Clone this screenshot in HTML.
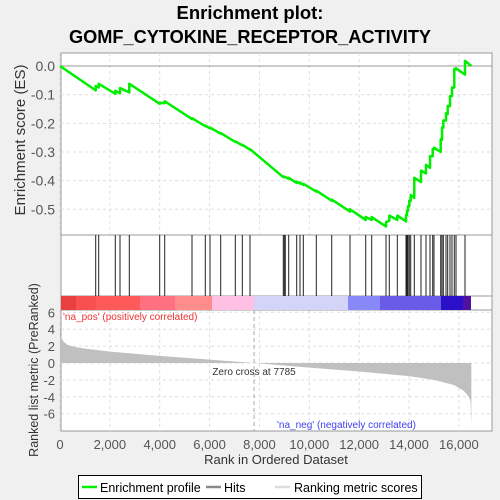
<!DOCTYPE html>
<html><head><meta charset="utf-8"><style>
body{margin:0;background:#f0f0f0;}
svg{display:block;font-family:"Liberation Sans",sans-serif;}
</style></head><body>
<svg id="c" width="500" height="500" xmlns="http://www.w3.org/2000/svg">
<text x="250" y="19" text-anchor="middle" font-size="18.5" font-weight="bold">Enrichment plot:</text>
<text x="250" y="43" text-anchor="middle" font-size="18.2" font-weight="bold">GOMF_CYTOKINE_RECEPTOR_ACTIVITY</text>
<rect x="61" y="53" width="431" height="378" fill="#fff" stroke="#999"/>
<g id="grid"></g>
<g id="colorbar"></g>
<g id="hits"></g>
<g id="metric"></g>
<g id="es"></g>
<g id="axes" font-size="13" fill="#555"></g>
<text transform="translate(25,140) rotate(-90)" text-anchor="middle" font-size="15" fill="#333">Enrichment score (ES)</text>
<text transform="translate(38,370) rotate(-90)" text-anchor="middle" font-size="12.5" fill="#333">Ranked list metric (PreRanked)</text>
<text x="276" y="464" text-anchor="middle" font-size="13" fill="#333">Rank in Ordered Dataset</text>
<text x="63" y="320" font-size="10" fill="#f03030">'na_pos' (positively correlated)</text>
<text x="277" y="428" font-size="10" fill="#4040f0">'na_neg' (negatively correlated)</text>
<text x="254" y="375" text-anchor="middle" font-size="10" fill="#333">Zero cross at 7785</text>
<g>
<rect x="78.5" y="475.5" width="343" height="23" fill="#fff" stroke="#000"/>
<line x1="82" y1="487" x2="97" y2="487" stroke="#00ee00" stroke-width="2.5"/>
<text x="100" y="492" font-size="12.5">Enrichment profile</text>
<line x1="206" y1="487" x2="221" y2="487" stroke="#888" stroke-width="2.5"/>
<text x="224" y="492" font-size="12.5">Hits</text>
<line x1="275" y1="487" x2="290" y2="487" stroke="#ddd" stroke-width="2.5"/>
<text x="294" y="492" font-size="12.5">Ranking metric scores</text>
</g>
</svg>
<script>
const hitRanks=[1432,1552,2218,2407,2780,3999,4200,5295,5828,6017,6446,7032,7313,7621,8957,8997,9037,9174,9495,9627,9760,10281,10899,11633,12263,12503,13077,13209,13530,13879,13919,13959,14011,14068,14212,14481,14681,14842,14950,15002,15271,15323,15376,15483,15551,15644,15724,15816,15884,16245];
const esBefore=[-0.085,-0.075,-0.097,-0.095,-0.092,-0.132,-0.130,-0.185,-0.210,-0.218,-0.236,-0.265,-0.277,-0.292,-0.388,-0.387,-0.388,-0.394,-0.408,-0.410,-0.415,-0.438,-0.470,-0.508,-0.537,-0.537,-0.560,-0.540,-0.537,-0.542,-0.520,-0.505,-0.490,-0.470,-0.460,-0.405,-0.375,-0.355,-0.315,-0.290,-0.300,-0.258,-0.215,-0.190,-0.168,-0.140,-0.105,-0.075,-0.012,-0.030];
const esAfter=[-0.070,-0.062,-0.087,-0.077,-0.062,-0.128,-0.123,-0.182,-0.208,-0.215,-0.234,-0.263,-0.275,-0.290,-0.386,-0.386,-0.387,-0.390,-0.404,-0.406,-0.411,-0.435,-0.466,-0.500,-0.527,-0.527,-0.545,-0.522,-0.522,-0.520,-0.505,-0.490,-0.470,-0.450,-0.390,-0.365,-0.345,-0.315,-0.290,-0.285,-0.255,-0.215,-0.190,-0.165,-0.140,-0.105,-0.075,-0.010,-0.008,0.018];
const metricRanks=[0,50,150,300,600,1000,2000,3000,4000,6000,7785,10000,12000,14000,15000,15800,16200,16400,16470,16500];
const metricValues=[3.8,3.0,2.5,2.15,1.9,1.7,1.35,1.1,0.85,0.4,0,-0.55,-1.0,-1.55,-2.0,-2.6,-3.3,-4.0,-4.6,-7.3];
const xTicks=[0,2000,4000,6000,8000,10000,12000,14000,16000];
const esTicks=[0,-0.1,-0.2,-0.3,-0.4,-0.5];
const mTicks=[6,4,2,0,-2,-4,-6];
const N=16500;
const NS="http://www.w3.org/2000/svg";
const X=r=>60+r*0.02493;
const YE=v=>66-v*286.6;
const YM=v=>363-v*8.45;
function mk(tag,attrs,parent){const e=document.createElementNS(NS,tag);for(const k in attrs)e.setAttribute(k,attrs[k]);document.getElementById(parent).appendChild(e);return e;}
xTicks.forEach(t=>{
 const l=mk('line',{x1:X(t),x2:X(t),y1:53,y2:235,stroke:'#ddd','stroke-dasharray':'3,3'},'grid');
 
 
 const l2=mk('line',{x1:X(t),x2:X(t),y1:310,y2:431,stroke:'#ddd','stroke-dasharray':'3,3'},'grid');
 
 
 const tx=mk('text',{x:X(t),y:449,'text-anchor':'middle'},'axes');
 tx.textContent=t.toLocaleString('en-US');
 
 
});
esTicks.forEach(t=>{
 const l=mk('line',{x1:61,x2:492,y1:YE(t),y2:YE(t),stroke:t===0?'#999':'#ddd','stroke-dasharray':t===0?'':'3,3'},'grid');
 
 
 const tx=mk('text',{x:55,y:YE(t)+5,'text-anchor':'end','font-size':'14'},'axes');
 tx.textContent=t.toFixed(1);
 
 
});
mTicks.forEach(t=>{
 const l=mk('line',{x1:61,x2:492,y1:YM(t),y2:YM(t),stroke:'#ddd','stroke-dasharray':'3,3'},'grid');
 
 
 const tx=mk('text',{x:55,y:YM(t)+5,'text-anchor':'end'},'axes');
 tx.textContent=t;
 
 
});
[235,296,310].forEach(y=>{const l=mk('line',{x1:61,x2:492,y1:y,y2:y,stroke:'#999'},'grid');
 
 });
const cb=[[61,76,'#e84040'],[76,96,'#f85050'],[96,140,'#ff5a5a'],[140,175,'#ff7080'],[175,212,'#ff8c8c'],[212,254,'#ffc0e4'],[254,348,'#d4d4f8'],[348,380,'#8888f8'],[380,441,'#6a5ae8'],[441,463,'#2a10c8'],[463,471,'#5010a0']];
cb.forEach(s=>{const r=mk('rect',{x:s[0],y:296,width:s[1]-s[0],height:14,fill:s[2]},'colorbar');
 
 });
hitRanks.forEach(h=>{const l=mk('line',{x1:X(h),x2:X(h),y1:235,y2:296,stroke:'#222','stroke-width':1},'hits');
 
 });
let d='M'+X(0)+','+YM(0);
metricRanks.forEach((r,i)=>{d+=' L'+X(r)+','+YM(metricValues[i]);});
d+=' L'+X(N)+','+YM(0)+' Z';
const mp=mk('path',{d:d,fill:'#c0c0c0'},'metric');


const zl=mk('line',{x1:X(7785),x2:X(7785),y1:310,y2:431,stroke:'#aaa','stroke-dasharray':'4,3'},'metric');


let pts=[[X(0),YE(0)]];
hitRanks.forEach((h,i)=>{pts.push([X(h),YE(esBefore[i])]);pts.push([X(h),YE(esAfter[i])]);});
pts.push([X(N),YE(0)]);
const ep=mk('polyline',{points:pts.map(p=>p.join(',')).join(' '),fill:'none',stroke:'#00ee00','stroke-width':2.5,'stroke-linejoin':'round'},'es');


</script>
</body></html>
